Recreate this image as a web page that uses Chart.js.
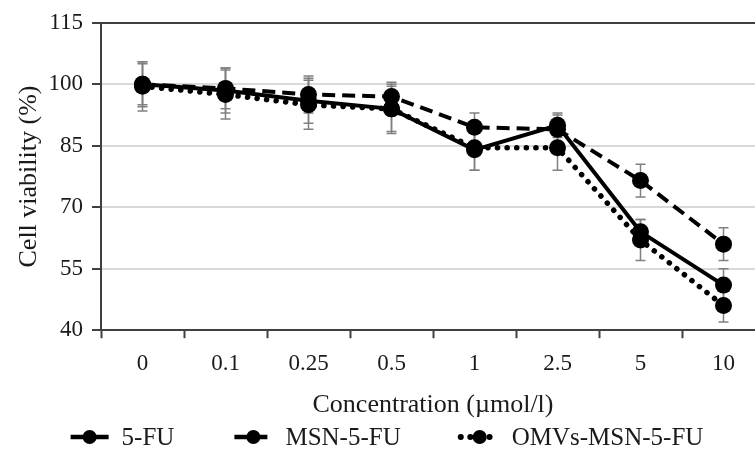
<!DOCTYPE html>
<html>
<head>
<meta charset="utf-8">
<script src="https://cdn.jsdelivr.net/npm/chart.js@4.4.1/dist/chart.umd.min.js"></script>
<style>
  html, body { margin: 0; padding: 0; background: #ffffff; overflow: hidden; }
  #chart { display: block; }
</style>
</head>
<body>
<canvas id="chart" width="775" height="449"></canvas>
<script>
// Cell viability vs concentration

const concentrations = ["0", "0.1", "0.25", "0.5", "1", "2.5", "5", "10"];

const fuValues = [100, 98.5, 96, 94, 84, 90, 64, 51];
const fuErrors = [5, 5.5, 5.5, 5.5, 5, 3, 3, 4];

const msnValues = [100, 99, 97.5, 97, 89.5, 89, 76.5, 61];
const msnErrors = [5.5, 5, 4.5, 3.5, 3.5, 3.5, 4, 4];

const omvValues = [99.5, 97.5, 95, 94, 84.5, 84.5, 62, 46];
const omvErrors = [6, 6, 6, 6, 5.5, 5.5, 5, 4];

const yTicks = [40, 55, 70, 85, 100, 115];

const FONT = "'Liberation Serif', 'Times New Roman', serif";

/* =========================================
   ERROR BARS (drawn under the markers)
========================================= */
const errorBarPlugin = {
  id: "errorBars",
  beforeDatasetsDraw(chart) {
    const ctx = chart.ctx;
    const yScale = chart.scales.y;
    ctx.save();
    ctx.strokeStyle = "#808080";
    ctx.lineWidth = 1.5;
    chart.data.datasets.forEach((ds, di) => {
      const meta = chart.getDatasetMeta(di);
      meta.data.forEach((pt, i) => {
        const v = ds.data[i];
        const e = ds.errors[i];
        const x = pt.x;
        const yTop = yScale.getPixelForValue(v + e);
        const yBot = yScale.getPixelForValue(v - e);
        ctx.beginPath();
        ctx.moveTo(x, yTop);
        ctx.lineTo(x, yBot);
        ctx.moveTo(x - 5, yTop);
        ctx.lineTo(x + 5, yTop);
        ctx.moveTo(x - 5, yBot);
        ctx.lineTo(x + 5, yBot);
        ctx.stroke();
      });
    });
    ctx.restore();
  }
};

/* =========================================
   LEGEND (line + marker samples)
========================================= */
const lineLegendPlugin = {
  id: "lineLegend",
  afterDraw(chart) {
    const ctx = chart.ctx;
    const sampleW = 38;
    const gapText = 13;
    const gapItem = 60;
    const y = 437;
    ctx.save();
    ctx.font = "25px " + FONT;
    ctx.textBaseline = "middle";
    const items = chart.data.datasets.map(ds => ({
      ds,
      w: sampleW + gapText + ctx.measureText(ds.label).width
    }));
    const total = items.reduce((s, it) => s + it.w, 0) + gapItem * (items.length - 1);
    let x = 387 - total / 2;
    items.forEach(it => {
      const ds = it.ds;
      ctx.strokeStyle = "#000";
      ctx.lineWidth = ds.borderWidth + 0.5;
      ctx.lineCap = ds.borderCapStyle || "butt";
      ctx.setLineDash(ds.borderDash || []);
      ctx.beginPath();
      ctx.moveTo(x, y);
      ctx.lineTo(x + sampleW, y);
      ctx.stroke();
      ctx.setLineDash([]);
      ctx.fillStyle = "#000";
      ctx.beginPath();
      ctx.arc(x + sampleW / 2, y, 7, 0, Math.PI * 2);
      ctx.fill();
      ctx.fillStyle = "#1a1a1a";
      ctx.fillText(ds.label, x + sampleW + gapText, y + 1);
      x += it.w + gapItem;
    });
    ctx.restore();
  }
};

function makeDataset(label, values, errors, dash, width, cap) {
  return {
    label: label,
    data: values,
    errors: errors,
    borderColor: "#000000",
    backgroundColor: "#000000",
    borderWidth: width,
    borderDash: dash,
    borderCapStyle: cap,
    pointRadius: 8.5,
    pointBorderWidth: 0,
    pointBackgroundColor: "#000000",
    pointHoverRadius: 8.5,
    tension: 0,
    fill: false
  };
}

const ctx = document.getElementById("chart").getContext("2d");

new Chart(ctx, {
  type: "line",
  data: {
    labels: concentrations,
    datasets: [
      makeDataset("5-FU", fuValues, fuErrors, [], 4, "butt"),
      makeDataset("MSN-5-FU", msnValues, msnErrors, [13, 7], 4, "butt"),
      makeDataset("OMVs-MSN-5-FU", omvValues, omvErrors, [0.1, 9.5], 5.5, "round")
    ]
  },
  options: {
    responsive: false,
    animation: false,
    layout: {
      padding: { left: 14, right: 10, top: 13, bottom: 28 }
    },
    plugins: {
      legend: { display: false },
      tooltip: { enabled: false }
    },
    scales: {
      x: {
        offset: true,
        grid: {
          offset: true,
          drawOnChartArea: false,
          drawTicks: true,
          tickLength: 8,
          tickColor: "#404040",
          tickWidth: 2
        },
        border: { display: true, color: "#404040", width: 2 },
        ticks: {
          color: "#1a1a1a",
          font: { family: FONT, size: 23 },
          padding: 12
        },
        title: {
          display: true,
          text: "Concentration (µmol/l)",
          color: "#1a1a1a",
          font: { family: FONT, size: 26 },
          padding: { top: 0, bottom: 0 }
        }
      },
      y: {
        min: 40,
        max: 115,
        afterBuildTicks(scale) {
          scale.ticks = yTicks.map(v => ({ value: v }));
        },
        afterFit(scale) {
          scale.width = 87;
        },
        grid: {
          color: c => (c.tick && c.tick.value === 115 ? "#404040" : "#d9d9d9"),
          lineWidth: 2,
          drawTicks: true,
          tickLength: 9,
          tickColor: "#404040",
          tickWidth: 2
        },
        border: { display: true, color: "#404040", width: 2 },
        ticks: {
          color: "#1a1a1a",
          font: { family: FONT, size: 23 },
          padding: 9
        },
        title: {
          display: true,
          text: "Cell viability (%)",
          color: "#1a1a1a",
          font: { family: FONT, size: 26 },
          padding: 0
        }
      }
    }
  },
  plugins: [errorBarPlugin, lineLegendPlugin]
});
</script>
</body>
</html>
